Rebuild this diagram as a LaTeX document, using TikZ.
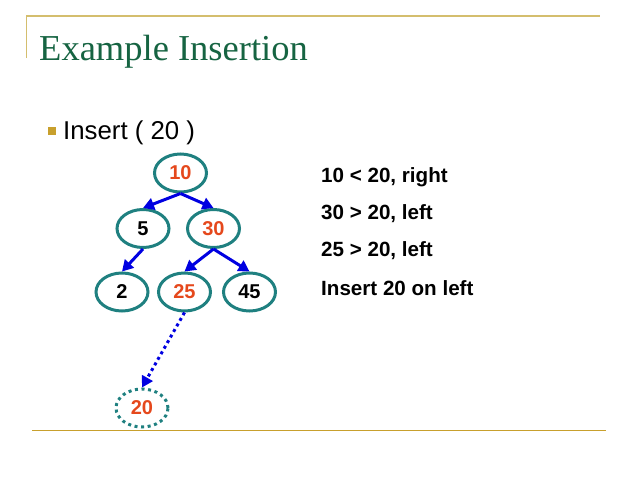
\documentclass[tikz,border=0pt]{standalone}
\usepackage{fontspec}
\setmainfont{Liberation Sans}
\newfontfamily\titlefont{Liberation Serif}
\usepackage{xcolor}
\usetikzlibrary{
    arrows.meta,
    shapes.geometric,
    positioning
}
\definecolor{nodeteal}{RGB}{31,128,128}
\definecolor{numred}{RGB}{229,72,28}
\definecolor{titlegreen}{RGB}{22,100,66}
\definecolor{rulekhaki}{RGB}{212,190,110}
\definecolor{rulegold}{RGB}{200,160,45}
\definecolor{arrowblue}{RGB}{0,0,225}

\begin{document}
\begin{tikzpicture}[x=1pt, y=-1pt,
    bst/.style={ellipse, draw=nodeteal, line width=3pt, minimum width=52pt, minimum height=38pt, inner sep=0pt, font=\bfseries\fontsize{20}{24}\selectfont},
    hit/.style={bst, text=numred},
    link/.style={arrowblue, line width=3pt, -{Triangle[length=11pt, width=12pt]}},
    note/.style={anchor=base west, inner sep=0pt, font=\bfseries\fontsize{20.6}{24}\selectfont}]
                        \useasboundingbox (0, 0) rectangle (638, 479);
                        \draw[rulekhaki, line width=1.5pt] (26.7, 58) -- (26.7, 16) -- (600, 16);
                        \draw[rulegold, line width=1.5pt] (32, 430.7) -- (606, 430.7);
                        \node[anchor=base west, inner sep=0pt, text=titlegreen, font=\titlefont\fontsize{36.5}{40}\selectfont] (title) at (39, 60) {Example Insertion};
                        \fill[rulegold] (48, 127) rectangle (56, 135);
                        \node[anchor=base west, inner sep=0pt, font=\fontsize{25.8}{30}\selectfont] (task) at (63, 139) {Insert ( 20 )};
                        \node[hit] (n10) at (180.5, 173) {10};
                        \node[bst] (n5) at (143, 228.5) {5};
                        \node[hit] (n30) at (213.5, 228.5) {30};
                        \node[bst] (n2) at (122, 292) {2};
                        \node[hit] (n25) at (184.5, 292) {25};
                        \node[bst] (n45) at (249.5, 292) {45};
                        \node[hit, dash pattern=on 3pt off 3.6pt] (n20) at (142, 408) {20};
                        \node[note] (c1) at (321, 182) {10 < 20, right};
                        \node[note] (c2) at (321, 219) {30 > 20, left};
                        \node[note] (c3) at (321, 256.7) {25 > 20, left};
                        \node[note] (c4) at (321, 295) {Insert 20 on left};
                        \draw
                        (n10.south) edge[link] (n5.north)
                        (n10.south) edge[link] (n30.north)
                        (n5.south) edge[link] (n2.north)
                        (n30.south) edge[link] (n25.north)
                        (n30.south) edge[link] (n45.north)
                        (n25.south) edge[link, dash pattern=on 3pt off 3.4pt] (n20.north);
                    \end{tikzpicture}
\end{document}
